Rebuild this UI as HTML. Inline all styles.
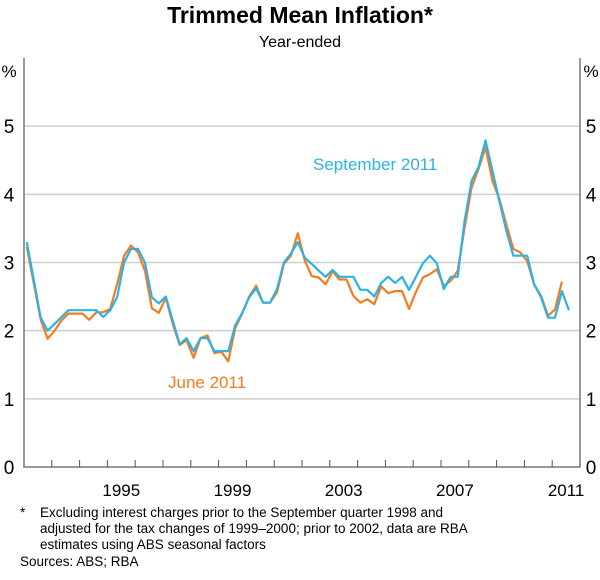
<!DOCTYPE html>
<html><head><meta charset="utf-8"><style>
body{margin:0;background:#fff;width:600px;height:575px;overflow:hidden;font-family:"Liberation Sans",Arial,sans-serif}
</style></head><body>
<svg width="600" height="575" xmlns="http://www.w3.org/2000/svg" font-family="Liberation Sans, Arial, sans-serif">
<text x="300" y="23" text-anchor="middle" font-size="23" font-weight="bold" fill="#000">Trimmed Mean Inflation*</text>
<text x="300" y="47" text-anchor="middle" font-size="16" fill="#000">Year-ended</text>
<g id="grid"></g>
<g id="axes"></g>
<g id="series"></g>
<text x="313" y="170" font-size="17" fill="#2bb3e6">September 2011</text>
<text x="168" y="388" font-size="17" fill="#f47b20">June 2011</text>
<text x="20" y="517" font-size="13.5" fill="#000">*</text>
<text x="40" y="517" font-size="13.5" fill="#000">Excluding interest charges prior to the September quarter 1998 and</text>
<text x="40" y="533" font-size="13.5" fill="#000">adjusted for the tax changes of 1999–2000; prior to 2002, data are RBA</text>
<text x="40" y="549" font-size="13.5" fill="#000">estimates using ABS seasonal factors</text>
<text x="20" y="566" font-size="13.5" fill="#000">Sources: ABS; RBA</text>
</svg>
<script>
const yTicks=[0,1,2,3,4,5];
const yearLabels=[1995,1999,2003,2007,2011];
const startYear=1992;
const septSeries=[3.30,2.75,2.19,2.0,2.1,2.2,2.3,2.3,2.3,2.3,2.3,2.2,2.3,2.49,3.0,3.2,3.2,3.0,2.49,2.4,2.5,
2.15,1.80,1.89,1.70,1.89,1.89,1.70,1.70,1.70,2.08,2.26,2.49,2.62,2.41,2.41,2.61,3.0,3.13,3.3,
3.07,2.98,2.88,2.79,2.89,2.79,2.79,2.79,2.6,2.6,2.5,2.7,2.79,2.7,2.79,2.6,2.79,2.99,3.1,2.99,2.61,2.79,2.79,3.61,4.2,4.4,4.79,4.35,3.9,3.47,3.1,3.1,3.1,2.68,2.49,2.19,2.19,2.58,2.3];
const juneSeries=[3.23,2.7,2.16,1.88,2.0,2.15,2.25,2.25,2.25,2.16,2.27,2.27,2.32,2.68,3.1,3.25,3.15,2.88,2.33,2.26,2.48,
2.1,1.79,1.86,1.6,1.89,1.93,1.67,1.69,1.55,2.04,2.25,2.5,2.66,2.41,2.41,2.56,2.98,3.1,3.43,
3.03,2.8,2.78,2.68,2.87,2.75,2.75,2.51,2.41,2.46,2.39,2.65,2.55,2.58,2.58,2.32,2.57,2.78,2.83,2.9,2.66,2.73,2.88,3.51,4.1,4.37,4.69,4.2,3.93,3.56,3.2,3.15,3.02,2.68,2.51,2.22,2.31,2.72];
const L=24,R=580,B=467,T=58,yearW=(R-L)/20;
const NS="http://www.w3.org/2000/svg";
function y(v){return B-v*(B-T)/6;}
function x(i){return L+(0.1+i*0.25)*yearW;}
function yearX(yr){return L+(yr-startYear)*yearW;}
function mk(tag,attrs,parent){const e=document.createElementNS(NS,tag);for(const k in attrs)e.setAttribute(k,attrs[k]);parent.appendChild(e);return e;}
const grid=document.getElementById('grid'),axes=document.getElementById('axes'),ser=document.getElementById('series');
yTicks.forEach(v=>{
 if(v>0){const g=mk('line',{x1:L,x2:R,y1:y(v),y2:y(v),stroke:'#cfcfcf','stroke-width':1.5},grid);
 
 }
 const a=mk('text',{x:9,y:y(v)+7,'text-anchor':'middle','font-size':19,fill:'#000'},axes);a.textContent=v;
 
 
 const b=mk('text',{x:591,y:y(v)+7,'text-anchor':'middle','font-size':19,fill:'#000'},axes);b.textContent=v;
 
 
});
const pl=mk('text',{x:9,y:77,'text-anchor':'middle','font-size':17,fill:'#000'},axes);pl.textContent='%';


const pr=mk('text',{x:591,y:77,'text-anchor':'middle','font-size':17,fill:'#000'},axes);pr.textContent='%';


const ax=mk('path',{d:`M${L},${T}V${B}H${R}V${T}`,fill:'none',stroke:'#777','stroke-width':1.5},axes);


for(let yr=startYear+1;yr<startYear+20;yr++){
 const t=mk('line',{x1:yearX(yr),x2:yearX(yr),y1:B,y2:B-7,stroke:'#555','stroke-width':1},axes);
 
 
}
yearLabels.forEach(yr=>{
 const t=mk('text',{x:yearX(yr+0.5),y:B+29,'text-anchor':'middle','font-size':17,fill:'#000'},axes);t.textContent=yr;
 
 
});
function line(data,color,name){
 const d=data.map((v,i)=>(i?'L':'M')+x(i).toFixed(1)+','+y(v).toFixed(1)).join('');
 const p=mk('path',{d:d,fill:'none',stroke:color,'stroke-width':2.2,'stroke-linejoin':'round'},ser);
 
 
}
line(juneSeries,'#f47b20','june-2011-line');
line(septSeries,'#2bb3e6','september-2011-line');
</script>
</body></html>
